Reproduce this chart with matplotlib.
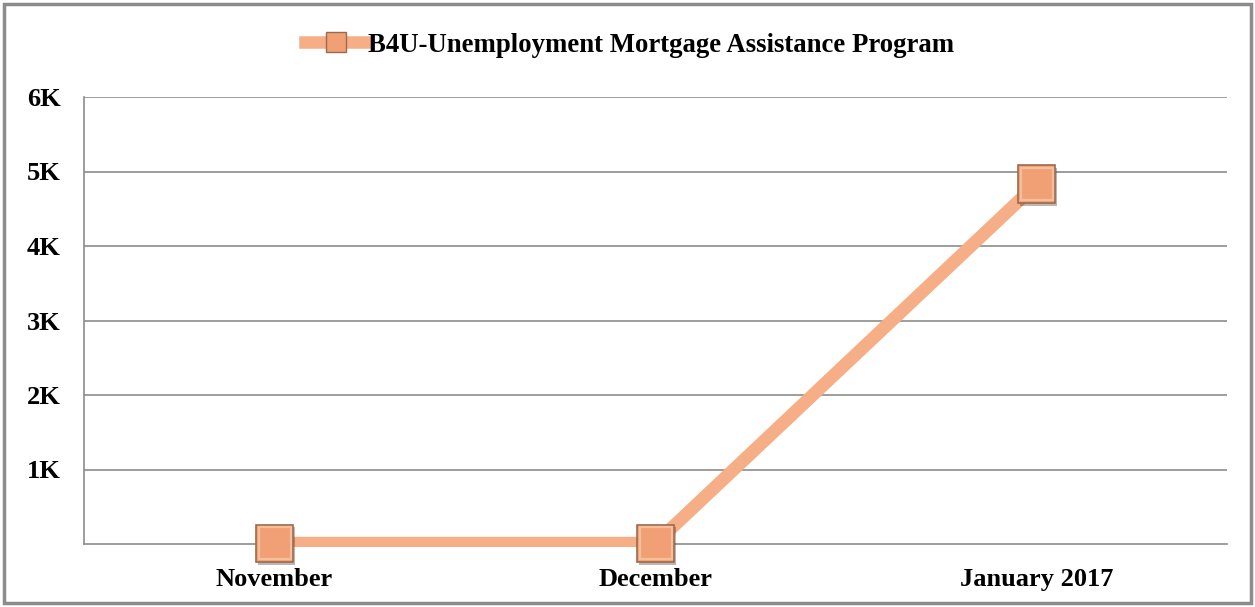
import matplotlib.pyplot as plt
import matplotlib.patheffects as pe
from matplotlib.patches import Rectangle
from matplotlib.lines import Line2D

# data
months = ['November', 'December', 'January 2017']
applications = [10, 10, 4830]
y_ticks = [1000, 2000, 3000, 4000, 5000, 6000]
y_labels = ['1K', '2K', '3K', '4K', '5K', '6K']
series_name = 'B4U-Unemployment Mortgage Assistance Program'

line_color = '#F5AE85'
marker_face = '#F0A074'
marker_edge = '#9C6A4E'
bevel_color = '#F8C7A6'
grid_color = '#8C8C8C'

plt.rcParams['font.family'] = ['Liberation Serif', 'DejaVu Serif']
plt.rcParams['font.weight'] = 'bold'

fig = plt.figure(figsize=(12.55, 6.07), dpi=100)
ax = fig.add_axes([84 / 1255, 1 - 544 / 607, 1143 / 1255, 447 / 607])

x = list(range(len(months)))
line, = ax.plot(x, applications, color=line_color, linewidth=9.3,
                solid_capstyle='butt', zorder=3)
# let the line show a couple of pixels below the plot area, like the original
clip = Rectangle((0, -2.5 / 447), 1, 1 + 2.5 / 447, transform=ax.transAxes)
line.set_clip_path(clip)

shadow = [pe.SimplePatchShadow(offset=(1.5, -2), alpha=0.35), pe.Normal()]
ax.plot(x, applications, linestyle='none', marker='s', markersize=27,
        markerfacecolor=marker_face, markeredgecolor=marker_edge,
        markeredgewidth=1.2, zorder=4, clip_on=False, path_effects=shadow)
ax.plot(x, applications, linestyle='none', marker='s', markersize=23.5,
        markerfacecolor='none', markeredgecolor=bevel_color,
        markeredgewidth=1.6, alpha=0.8, zorder=5, clip_on=False)

ax.set_xlim(-0.5, len(months) - 0.5)
ax.set_ylim(0, 6000)
ax.set_yticks(y_ticks)
ax.set_yticklabels(y_labels)
ax.set_xticks(x)
ax.set_xticklabels(months)
ax.tick_params(axis='both', length=0, labelsize=19, labelcolor='black')
ax.tick_params(axis='y', pad=17)
ax.tick_params(axis='x', pad=17)
for lbl in ax.get_xticklabels() + ax.get_yticklabels():
    lbl.set_fontweight('bold')

ax.grid(axis='y', color=grid_color, linewidth=1.2, zorder=1)
for side in ['top', 'right']:
    ax.spines[side].set_visible(False)
for side in ['left', 'bottom']:
    ax.spines[side].set_color(grid_color)
    ax.spines[side].set_linewidth(1.2)

handle = Line2D([0], [0], color=line_color, linewidth=9, marker='s',
                markersize=14, markerfacecolor=marker_face,
                markeredgecolor=marker_edge, markeredgewidth=1.0)
fig.legend([handle], [series_name], loc='center', bbox_to_anchor=(0.502, 1 - 45 / 607),
           frameon=False, handlelength=2.3, handletextpad=0.05,
           prop={'family': 'Liberation Serif', 'weight': 'bold', 'size': 19.3})

fig.patches.append(Rectangle((4 / 1255, 4 / 607), 1 - 8 / 1255, 1 - 8 / 607,
                             transform=fig.transFigure, fill=False,
                             edgecolor='#8C8C8C', linewidth=2.5))

fig.savefig('out.png', dpi=100, facecolor='white')
